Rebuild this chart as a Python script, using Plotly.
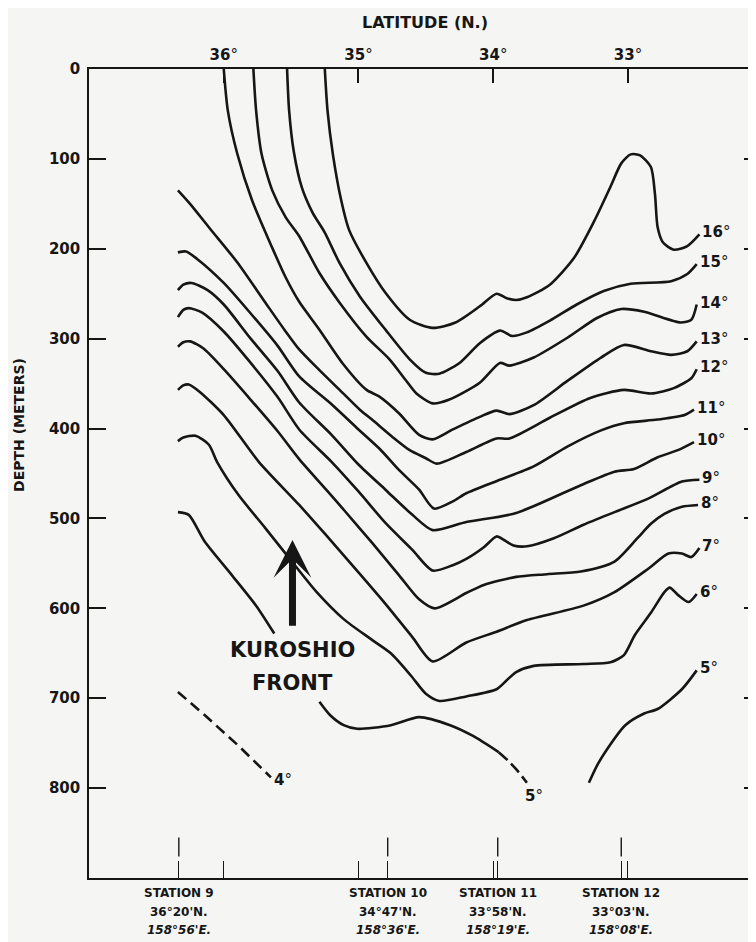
import plotly.graph_objects as go

# ---------------- data ----------------
LAT_TICKS = [36, 35, 34, 33]
DEPTH_TICKS = [0, 100, 200, 300, 400, 500, 600, 700, 800]

STATION_NAMES = ["STATION 9", "STATION 10", "STATION 11", "STATION 12"]
STATION_LAT_DEG = [36, 34, 33, 33]
STATION_LAT_MIN = [20, 47, 58, 3]
STATION_LON_TEXT = ["158°56'E.", "158°36'E.", "158°19'E.", "158°08'E."]

ISO16_LAT = [35.25, 35.23, 35.19, 35.13, 35.07, 34.94, 34.80, 34.62, 34.45, 34.28, 34.10,
             33.975, 33.90, 33.83, 33.75, 33.58, 33.40, 33.25, 33.13, 33.05, 32.98, 32.91, 32.83,
             32.80, 32.78, 32.74, 32.66, 32.56, 32.47]
ISO16_DEPTH = [0, 46, 95, 145, 179, 216, 249, 279, 288, 282, 264,
               250, 255, 257, 254, 240, 210, 169, 131, 105, 95, 96, 109,
               139, 176, 193, 201, 197, 184]

ISO15_LAT = [35.53, 35.515, 35.48, 35.42, 35.34, 35.25, 35.14, 34.99, 34.80, 34.62, 34.50, 34.40,
             34.25, 34.10, 33.95, 33.86, 33.75, 33.58, 33.38, 33.18, 32.98, 32.68, 32.56, 32.49]
ISO15_DEPTH = [0, 46, 92, 132, 160, 182, 216, 253, 290, 323, 338, 339,
               327, 305, 291, 297, 293, 280, 262, 247, 239, 236, 228, 217]

ISO14_LAT = [35.78, 35.76, 35.72, 35.64, 35.54, 35.44, 35.29, 35.14, 34.94, 34.77, 34.65, 34.57,
             34.45, 34.33, 34.10, 33.95, 33.88, 33.70, 33.45, 33.23, 33.05, 32.88, 32.61, 32.53,
             32.49]
ISO14_DEPTH = [0, 46, 94, 135, 165, 186, 227, 260, 298, 323, 346, 361,
               372, 368, 349, 327, 330, 321, 299, 277, 267, 270, 282, 279,
               262]

ISO13_LAT = [36.0, 35.97, 35.90, 35.79, 35.64, 35.54, 35.44, 35.29, 35.12, 34.94, 34.85, 34.70,
             34.55, 34.45, 34.30, 34.10, 33.975, 33.88, 33.70, 33.45, 33.20, 33.03, 32.83, 32.68,
             32.56, 32.49]
ISO13_DEPTH = [0, 46, 94, 146, 199, 232, 259, 290, 327, 357, 364, 383,
               407, 412, 401, 387, 380, 384, 374, 347, 321, 307, 314, 318,
               314, 303]

ISO12_LAT = [36.34, 36.25, 36.1, 35.9, 35.7, 35.55, 35.44, 35.29, 35.14, 34.99, 34.90, 34.75,
             34.62, 34.5, 34.42, 34.20, 33.975, 33.88, 33.58, 33.28, 33.03, 32.83, 32.66, 32.53,
             32.49]
ISO12_DEPTH = [135, 150, 178, 215, 258, 290, 312, 335, 357, 379, 390, 409,
               424, 433, 439, 426, 411, 411, 388, 366, 357, 361, 355, 344,
               334]

ISO11_LAT = [36.34, 36.28, 36.2, 36.0, 35.8, 35.6, 35.44, 35.2, 35.0, 34.84, 34.7, 34.55,
             34.44, 34.3, 34.2, 33.95, 33.7, 33.45, 33.2, 33.03, 32.78, 32.58, 32.51]
ISO11_DEPTH = [204, 203, 211, 238, 272, 308, 342, 373, 401, 423, 446, 468,
               489, 481, 472, 457, 442, 420, 402, 394, 390, 385, 379]

ISO10_LAT = [36.34, 36.3, 36.24, 36.12, 36.0, 35.8, 35.6, 35.44, 35.2, 35.0, 34.8, 34.6,
             34.45, 34.2, 33.83, 33.35, 33.1, 32.955, 32.78, 32.63, 32.51]
ISO10_DEPTH = [246, 240, 238, 246, 262, 300, 336, 371, 407, 440, 468, 496,
               513, 504, 494, 463, 448, 445, 432, 424, 415]

ISO9_LAT = [36.34, 36.3, 36.26, 36.16, 36.0, 35.8, 35.6, 35.44, 35.2, 35.0, 34.8, 34.6,
            34.45, 34.3, 34.2, 34.07, 33.975, 33.92, 33.85, 33.75, 33.55, 33.33, 33.1, 32.85,
            32.6, 32.47]
ISO9_DEPTH = [276, 268, 266, 271, 292, 327, 365, 401, 437, 470, 505, 535,
              558, 552, 545, 532, 520, 524, 530, 531, 522, 507, 493, 478,
              459, 457]

ISO8_LAT = [36.34, 36.3, 36.25, 36.15, 36.0, 35.8, 35.6, 35.44, 35.24, 35.1, 34.9, 34.7,
            34.55, 34.435, 34.2, 34.07, 33.83, 33.6, 33.35, 33.1, 32.93, 32.83, 32.73, 32.6,
            32.48]
ISO8_DEPTH = [309, 304, 303, 311, 334, 368, 403, 434, 468, 492, 527, 563,
              590, 600, 583, 574, 565, 562, 559, 548, 522, 506, 495, 487,
              485]

ISO7_LAT = [36.34, 36.3, 36.26, 36.18, 36.0, 35.74, 35.44, 35.25, 35.0, 34.8, 34.6, 34.45,
            34.2, 33.975, 33.75, 33.33, 33.1, 32.85, 32.70, 32.6, 32.53, 32.47]
ISO7_DEPTH = [357, 352, 351, 359, 385, 437, 485, 517, 560, 595, 632, 659,
              638, 626, 613, 597, 582, 556, 539, 539, 543, 533]

ISO6_LAT = [36.34, 36.3, 36.21, 36.11, 36.05, 35.89, 35.69, 35.51, 35.31, 35.11, 34.91, 34.76,
            34.61, 34.5, 34.4, 34.2, 33.975, 33.9, 33.83, 33.70, 33.33, 33.13, 33.03, 32.95,
            32.83, 32.73, 32.69, 32.63, 32.55, 32.49]
ISO6_DEPTH = [414, 410, 408, 418, 437, 474, 511, 545, 582, 612, 634, 650,
              675, 695, 703, 698, 690, 680, 671, 664, 662, 660, 652, 630,
              605, 582, 577, 585, 593, 584]

ISO5_WEST_LAT = [36.34, 36.26, 36.14, 35.94, 35.76, 35.625]
ISO5_WEST_DEPTH = [493, 496, 526, 563, 597, 628]

ISO5_MID_LAT = [35.29, 35.21, 35.11, 35.01, 34.76, 34.55, 34.32, 34.15, 33.96]
ISO5_MID_DEPTH = [704, 719, 730, 734, 730, 721, 730, 742, 760]

ISO5_MID_DASH_LAT = [33.96, 33.90, 33.83, 33.75]
ISO5_MID_DASH_DEPTH = [760, 768, 779, 794]

ISO5_EAST_LAT = [33.29, 33.23, 33.17, 33.02, 32.88, 32.78, 32.60, 32.49]
ISO5_EAST_DEPTH = [794, 775, 760, 730, 717, 712, 690, 669]

ISO4_DASH_LAT = [36.34, 36.14, 35.89, 35.65]
ISO4_DASH_DEPTH = [693, 719, 753, 788]

FRONT_LAT = 35.49
FRONT_TIP_DEPTH = 524
FRONT_TAIL_DEPTH = 621

# ---------------- style ----------------
BG = "#f5f5f3"
INK = "#161616"
FONT = "DejaVu Sans"
LW = 2.6

fig = go.Figure()

solid_lines = [
    (ISO16_LAT, ISO16_DEPTH, "16"), (ISO15_LAT, ISO15_DEPTH, "15"),
    (ISO14_LAT, ISO14_DEPTH, "14"), (ISO13_LAT, ISO13_DEPTH, "13"),
    (ISO12_LAT, ISO12_DEPTH, "12"), (ISO11_LAT, ISO11_DEPTH, "11"),
    (ISO10_LAT, ISO10_DEPTH, "10"), (ISO9_LAT, ISO9_DEPTH, "9"),
    (ISO8_LAT, ISO8_DEPTH, "8"), (ISO7_LAT, ISO7_DEPTH, "7"),
    (ISO6_LAT, ISO6_DEPTH, "6"), (ISO5_EAST_LAT, ISO5_EAST_DEPTH, "5"),
]
for lat, dep, lab in solid_lines:
    fig.add_trace(go.Scatter(x=lat, y=dep, mode="lines",
                             line=dict(color=INK, width=LW, shape="spline", smoothing=0.7),
                             hoverinfo="skip"))

for lat, dep in [(ISO5_WEST_LAT, ISO5_WEST_DEPTH), (ISO5_MID_LAT, ISO5_MID_DEPTH)]:
    fig.add_trace(go.Scatter(x=lat, y=dep, mode="lines",
                             line=dict(color=INK, width=LW, shape="spline", smoothing=0.7),
                             hoverinfo="skip"))

fig.add_trace(go.Scatter(x=ISO5_MID_DASH_LAT, y=ISO5_MID_DASH_DEPTH, mode="lines",
                         line=dict(color=INK, width=LW, dash="12px,5px", shape="spline"),
                         hoverinfo="skip"))
fig.add_trace(go.Scatter(x=ISO4_DASH_LAT, y=ISO4_DASH_DEPTH, mode="lines",
                         line=dict(color=INK, width=LW, dash="11px,6px"),
                         hoverinfo="skip"))

# station ticks (upper broken segments) on bottom axis
station_lat = [d + m / 60.0 for d, m in zip(STATION_LAT_DEG, STATION_LAT_MIN)]
sx, sy = [], []
for la in station_lat:
    sx += [la, la, None]
    sy += [855, 876, None]
fig.add_trace(go.Scatter(x=sx, y=sy, mode="lines", line=dict(color=INK, width=1.4),
                         hoverinfo="skip"))

# invisible trace to activate overlay axes
fig.add_trace(go.Scatter(x=[34], y=[400], xaxis="x2", yaxis="y2", mode="markers",
                         marker=dict(opacity=0), hoverinfo="skip"))

ann = []
# isotherm labels at the east end
for lat, dep, lab in solid_lines:
    ann.append(dict(x=lat[-1], y=dep[-1], xref="x", yref="y", text=f"<b>{lab}</b>°",
                    xanchor="left", yanchor="middle", xshift=1, yshift=2, showarrow=False,
                    font=dict(family=FONT, size=15, color=INK)))
ann.append(dict(x=ISO5_MID_DASH_LAT[-1], y=ISO5_MID_DASH_DEPTH[-1], xref="x", yref="y",
                text="<b>5</b>°", xanchor="left", yanchor="top", xshift=-4, yshift=-2,
                showarrow=False, font=dict(family=FONT, size=15, color=INK)))
ann.append(dict(x=ISO4_DASH_LAT[-1], y=ISO4_DASH_DEPTH[-1], xref="x", yref="y",
                text="<b>4</b>°", xanchor="left", yanchor="middle", xshift=1, yshift=-3,
                showarrow=False, font=dict(family=FONT, size=15, color=INK)))

# Kuroshio front
ann.append(dict(x=FRONT_LAT, y=FRONT_TIP_DEPTH, ax=FRONT_LAT, ay=FRONT_TAIL_DEPTH,
                xref="x", yref="y", axref="x", ayref="y", text="", showarrow=True,
                arrowhead=3, arrowwidth=7, arrowsize=0.9, arrowcolor=INK))
ann.append(dict(x=FRONT_LAT, y=646, xref="x", yref="y", text="<b>KUROSHIO</b>",
                showarrow=False, font=dict(family=FONT, size=21, color=INK)))
ann.append(dict(x=FRONT_LAT, y=683, xref="x", yref="y", text="<b>FRONT</b>",
                showarrow=False, font=dict(family=FONT, size=21, color=INK)))

# station labels
for la, name, dmin, lon in zip(station_lat, STATION_NAMES,
                               zip(STATION_LAT_DEG, STATION_LAT_MIN), STATION_LON_TEXT):
    rows = [f"<b>{name}</b>", f"<b>{dmin[0]}°{dmin[1]:02d}'N.</b>", f"<b><i>{lon}</i></b>"]
    for k, txt in enumerate(rows):
        ann.append(dict(x=la, y=0, xref="x", yref="paper", text=txt, showarrow=False,
                        xanchor="center", yanchor="middle", yshift=-15 - 18.5 * k,
                        font=dict(family=FONT, size=12, color=INK)))

ann.append(dict(x=0.504, y=1.057, xref="paper", yref="paper", text="<b>LATITUDE (N.)</b>",
                xanchor="center", yanchor="middle",
                showarrow=False, font=dict(family=FONT, size=16, color=INK)))
ann.append(dict(x=-0.105, y=0.56, xref="paper", yref="paper", text="<b>DEPTH (METERS)</b>",
                xanchor="center", yanchor="middle",
                textangle=-90, showarrow=False, font=dict(family=FONT, size=14, color=INK)))

# page body has an 8px margin: figure placed at (8, 8)
fig.update_layout(
    width=748, height=934,
    margin=dict(l=81, r=0, t=61, b=64),
    paper_bgcolor=BG, plot_bgcolor=BG,
    showlegend=False,
    font=dict(family=FONT, color=INK),
    annotations=ann,
    xaxis=dict(range=[37.0, 32.05], side="top", showline=True, linecolor=INK, linewidth=1.6,
               ticks="inside", ticklen=14, tickwidth=1.6, tickcolor=INK,
               tickvals=LAT_TICKS, ticktext=[f"<b>{t}</b>°" for t in LAT_TICKS],
               tickfont=dict(family=FONT, size=15, color=INK), ticklabelstandoff=1,
               showgrid=False, zeroline=False, automargin=False),
    xaxis2=dict(range=[37.0, 32.05], overlaying="x", anchor="y", side="bottom",
                showline=True, linecolor=INK, linewidth=1.6, ticks="inside", ticklen=17,
                tickwidth=1.4, tickcolor=INK, tickvals=LAT_TICKS + station_lat,
                showticklabels=False, showgrid=False, zeroline=False, automargin=False),
    yaxis=dict(range=[900, 0], showline=True, linecolor=INK, linewidth=1.6,
               ticks="inside", ticklen=17, tickwidth=1.6, tickcolor=INK,
               tickvals=DEPTH_TICKS, ticktext=[f"<b>{t}</b>" for t in DEPTH_TICKS],
               tickfont=dict(family=FONT, size=15, color=INK), ticklabelstandoff=4,
               showgrid=False, zeroline=False, automargin=False),
    yaxis2=dict(range=[900, 0], overlaying="y", anchor="x", side="right", showline=False,
                ticks="inside", ticklen=12, tickwidth=1.6, tickcolor=INK,
                tickvals=DEPTH_TICKS[1:], showticklabels=False, showgrid=False,
                zeroline=False, automargin=False),
)

fig.write_html("out.html")
